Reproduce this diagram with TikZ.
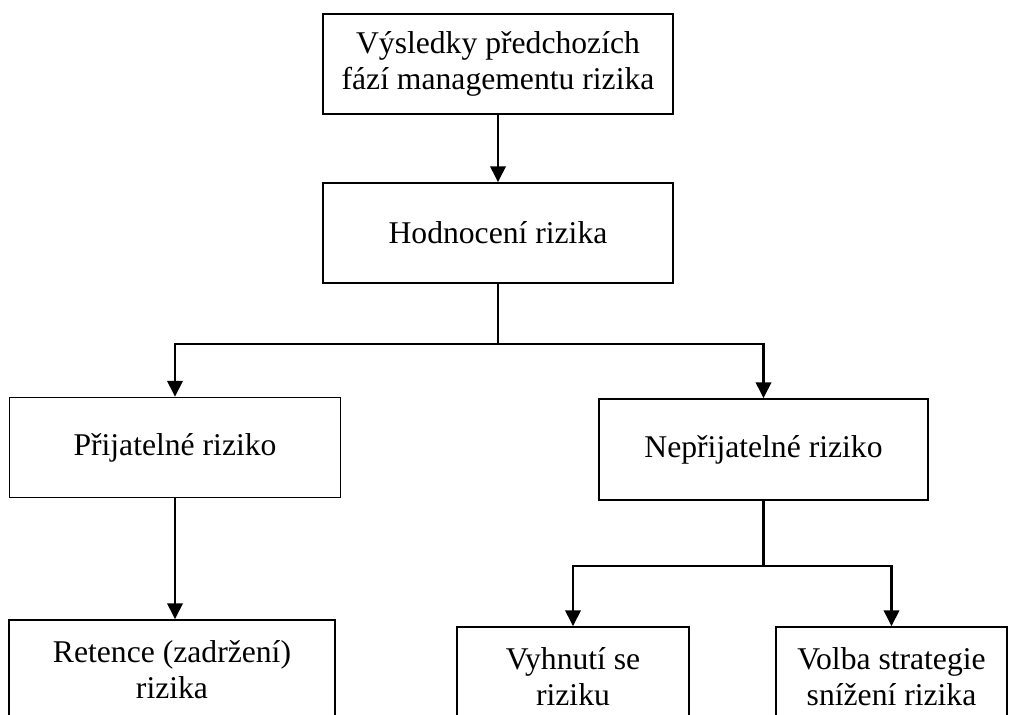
\documentclass[tikz,border=0pt]{standalone}
\usepackage{fontspec}
\setmainfont{Liberation Serif}
\usetikzlibrary{arrows.meta, positioning}

\begin{document}
\begin{tikzpicture}
        [
          x=0.025cm, y=-0.025cm,
          box/.style={draw, line width=1pt, align=center, inner sep=0pt,
            font=\fontsize{22.5}{25.5}\selectfont, minimum height=2.5cm},
          link/.style={line width=2.1pt, -{Triangle[length=0.4cm, width=0.38cm]}},
          joint/.style={line width=2.1pt}
        ]
        \useasboundingbox (0,0) rectangle (1013,715);
        \clip (0,0) rectangle (1013,715);

        \node[box, minimum width=8.75cm] (vysledky) at (498,64) {Výsledky předchozích\\fází managementu rizika};
        \node[box, minimum width=8.75cm] (hodnoceni) at (498,233) {Hodnocení rizika};
        \node[box, minimum width=8.275cm] (prijatelne) at (175,447.5) {Přijatelné riziko};
        \node[box, minimum width=8.225cm, minimum height=2.525cm] (neprijatelne) at (763.5,449.5) {Nepřijatelné riziko};
        \node[box, minimum width=8.15cm] (retence) at (172,670) {Retence (zadržení)\\rizika};
        \node[box, minimum width=5.8cm] (vyhnuti) at (573,677) {Vyhnutí se\\riziku};
        \node[box, minimum width=5.775cm] (volba) at (891.5,677) {Volba strategie\\snížení rizika};

        % rozvetveni
        \coordinate (split1) at (498,344);
        \coordinate (split2) at (763.5,566);

        \draw[link] (vysledky) -- (hodnoceni);
        \draw[joint] (hodnoceni) -- (split1);
        \draw[link] (split1) -| (prijatelne);
        \draw[link] (split1) -| (neprijatelne);
        \draw[link] (prijatelne) -- (prijatelne |- retence.north);
        \draw[joint] (neprijatelne) -- (split2);
        \draw[link] (split2) -| (vyhnuti);
        \draw[link] (split2) -| (volba);
      \end{tikzpicture}
\end{document}
